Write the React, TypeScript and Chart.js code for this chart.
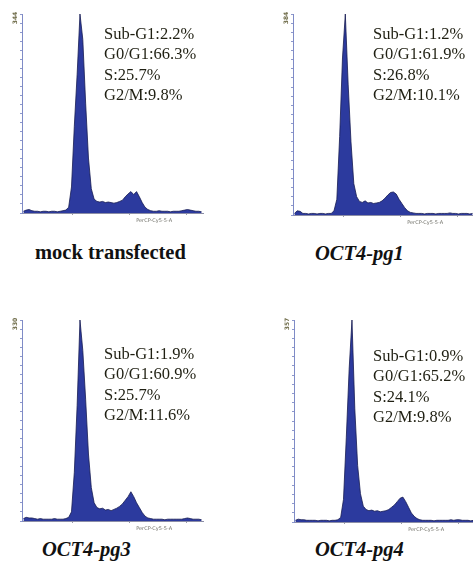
import React, { useEffect, useRef } from "react";
import { Chart, registerables } from "chart.js";

Chart.register(...registerables);

// ---- data (cell counts per DNA-content bin) ----
const MOCK_COUNTS = [
  3, 5, 6, 4, 3, 3, 2, 3, 3, 2, 3, 3, 2, 3, 4, 5,
  10, 45, 150, 240, 344, 300, 190, 95, 42, 24,
  20, 19, 20, 18, 19, 18, 17, 18, 20,
  22, 28, 33, 37, 32, 37, 28, 18, 10, 6,
  4, 3, 3, 4, 3, 3, 3, 2, 3, 3, 3, 4, 5, 6, 5, 4, 3, 3, 2,
];
const PG1_COUNTS = [
  3, 8, 7, 3, 3, 2, 3, 3, 2, 3, 3, 2, 3, 3,
  8, 30, 150, 300, 384, 250, 140, 60, 35,
  26, 24, 27, 23, 24, 22, 23, 24, 27,
  32, 38, 43, 44, 40, 30, 22, 14, 8, 5,
  4, 3, 3, 3, 2, 3, 3, 3, 2, 3, 3, 3, 3, 4, 3, 3, 2, 3, 3, 3, 2, 3,
];
const PG3_COUNTS = [
  4, 6, 5, 5, 4, 3, 4, 3, 3, 3, 3, 4, 3, 3, 3, 4, 6,
  15, 80, 190, 330, 280, 200, 110, 55, 30,
  22, 20, 21, 18, 19, 17, 19, 21, 24,
  28, 34, 40, 48, 40, 30, 22, 14, 8, 5,
  4, 3, 3, 3, 3, 2, 3, 3, 3, 3, 3, 3, 4, 5, 4, 3, 3, 3, 2,
];
const PG4_COUNTS = [
  3, 5, 4, 4, 3, 3, 3, 3, 2, 3, 3, 3, 2, 3, 3, 4, 8,
  40, 150, 270, 357, 200, 100, 50, 28,
  22, 20, 21, 19, 20, 18, 19, 20, 22, 26,
  30, 36, 42, 44, 36, 26, 16, 10, 6,
  4, 3, 3, 3, 3, 2, 3, 3, 3, 3, 3, 4, 3, 4, 4, 3, 3, 3, 2, 3,
];

const Y_MAX_TICKS = [344, 384, 330, 357];
const X_TICK_BINS = [18, 38, 58];
const X_AXIS_TITLE = "PerCP-Cy5-5-A";

const PANEL_TITLES = ["mock transfected", "OCT4-pg1", "OCT4-pg3", "OCT4-pg4"];
const SUB_G1 = ["2.2%", "1.2%", "1.9%", "0.9%"];
const G0_G1 = ["66.3%", "61.9%", "60.9%", "65.2%"];
const S_PHASE = ["25.7%", "26.8%", "25.7%", "24.1%"];
const G2_M = ["9.8%", "10.1%", "11.6%", "9.8%"];

// ---- layout ----
const PAD = 16;
const PANEL_BOXES = [
  { left: 22, top: 14, width: 181, height: 199 },
  { left: 293, top: 14, width: 181, height: 201 },
  { left: 22, top: 320, width: 181, height: 201 },
  { left: 294, top: 320, width: 181, height: 202 },
];
const TEXT_POS = [
  { left: 104, top: 24 },
  { left: 373, top: 24 },
  { left: 104, top: 344 },
  { left: 373, top: 346 },
];
const TITLE_POS = [
  { left: 35, top: 242, italic: false },
  { left: 315, top: 243, italic: true },
  { left: 42, top: 539, italic: true },
  { left: 315, top: 539, italic: true },
];

function Histogram(props: {
  counts: number[];
  yMax: number;
  box: { left: number; top: number; width: number; height: number };
}) {
  const ref = useRef<HTMLCanvasElement | null>(null);
  const { counts, yMax, box } = props;

  useEffect(() => {
    if (!ref.current) return;
    const nBins = counts.length;
    const labelPlugin = {
      id: "flowLabels",
      afterDraw(chart: any) {
        const ctx = chart.ctx;
        const a = chart.chartArea;
        ctx.save();
        // rotated y-axis max label
        ctx.translate(a.left - 7, a.top + 4);
        ctx.rotate(-Math.PI / 2);
        ctx.font = "bold 6px 'DejaVu Sans'";
        ctx.fillStyle = "#6e6b48";
        ctx.textAlign = "center";
        ctx.textBaseline = "middle";
        ctx.fillText(String(yMax), 0, 0);
        ctx.restore();
        ctx.save();
        ctx.font = "5px 'DejaVu Sans'";
        ctx.fillStyle = "#6e6e66";
        ctx.textAlign = "center";
        ctx.textBaseline = "top";
        ctx.fillText(X_AXIS_TITLE, a.left + (a.right - a.left) * 0.73, a.bottom + 5);
        ctx.restore();
      },
    };
    const chart = new Chart(ref.current, {
      type: "line",
      data: {
        datasets: [
          {
            data: counts.map((c, i) => ({ x: i + 0.5, y: c })),
            fill: "origin",
            backgroundColor: "#2c3a9e",
            borderColor: "#161c52",
            borderWidth: 0.8,
            pointRadius: 0,
            tension: 0,
          },
        ],
      },
      options: {
        animation: false,
        responsive: true,
        maintainAspectRatio: false,
        layout: { padding: PAD },
        plugins: { legend: { display: false }, tooltip: { enabled: false } },
        scales: {
          x: {
            type: "linear",
            min: 0,
            max: nBins,
            afterFit: (s: any) => {
              s.height = 0;
            },
            afterBuildTicks: (s: any) => {
              s.ticks = X_TICK_BINS.map((v) => ({ value: v }));
            },
            ticks: { display: false },
            grid: {
              display: true,
              drawOnChartArea: false,
              drawTicks: true,
              tickLength: 2,
              color: "#9a9aa8",
            },
            border: { display: true, color: "#8c8ea6", width: 1 },
          },
          y: {
            min: 0,
            max: yMax,
            afterFit: (s: any) => {
              s.width = 0;
            },
            ticks: { display: false, stepSize: yMax / 22 },
            grid: {
              display: true,
              drawOnChartArea: false,
              drawTicks: true,
              tickLength: 2,
              color: "#8e98cc",
            },
            border: { display: true, color: "#7f8bc6", width: 1, dash: [1, 1] },
          },
        },
      },
      plugins: [labelPlugin],
    } as any);
    return () => chart.destroy();
  }, [counts, yMax]);

  return (
    <div
      style={{
        position: "absolute",
        left: box.left - PAD,
        top: box.top - PAD,
        width: box.width + 2 * PAD,
        height: box.height + 2 * PAD,
      }}
    >
      <canvas ref={ref} />
    </div>
  );
}

export default function App() {
  const countsList = [MOCK_COUNTS, PG1_COUNTS, PG3_COUNTS, PG4_COUNTS];
  return (
    <div
      style={{
        position: "absolute",
        left: 0,
        top: 0,
        width: 473,
        height: 567,
        overflow: "hidden",
        background: "#ffffff",
      }}
    >
      {countsList.map((c, i) => (
        <Histogram key={"h" + i} counts={c} yMax={Y_MAX_TICKS[i]} box={PANEL_BOXES[i]} />
      ))}
      {TEXT_POS.map((p, i) => (
        <div
          key={"t" + i}
          style={{
            position: "absolute",
            left: p.left,
            top: p.top,
            fontFamily: "'Liberation Serif', 'Times New Roman', serif",
            fontSize: "16.5px",
            lineHeight: "20.3px",
            color: "#1f1f12",
            whiteSpace: "nowrap",
            zIndex: 2,
          }}
        >
          <div>Sub-G1:{SUB_G1[i]}</div>
          <div>G0/G1:{G0_G1[i]}</div>
          <div>S:{S_PHASE[i]}</div>
          <div>G2/M:{G2_M[i]}</div>
        </div>
      ))}
      {TITLE_POS.map((p, i) => (
        <div
          key={"ti" + i}
          style={{
            position: "absolute",
            left: p.left,
            top: p.top,
            fontFamily: "'Liberation Serif', 'Times New Roman', serif",
            fontSize: "20.5px",
            lineHeight: "20.5px",
            fontWeight: "bold",
            fontStyle: p.italic ? "italic" : "normal",
            color: "#111111",
            whiteSpace: "nowrap",
            zIndex: 2,
          }}
        >
          {PANEL_TITLES[i]}
        </div>
      ))}
    </div>
  );
}
